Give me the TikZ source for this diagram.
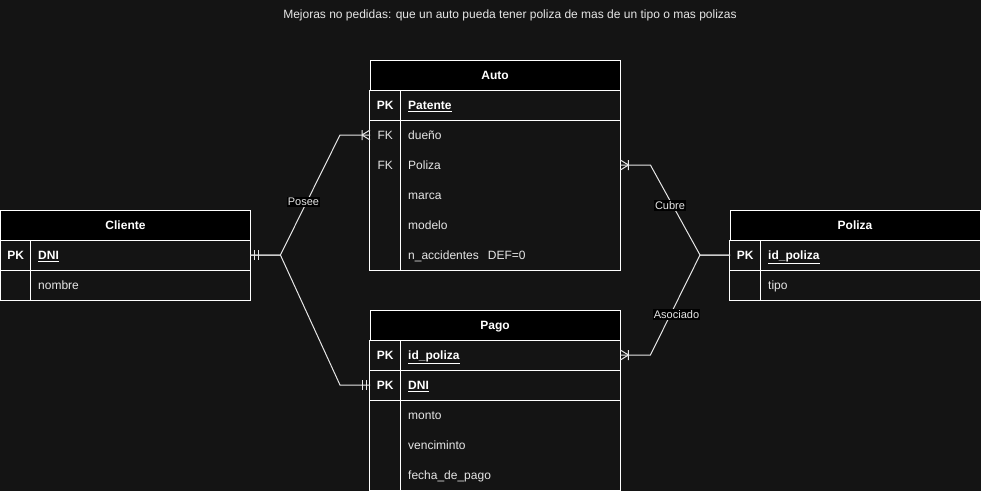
\documentclass[tikz,border=0pt]{standalone}
\usepackage{fontspec}
\setmainfont{Liberation Sans}
\definecolor{fondo}{HTML}{141414}
\definecolor{texto}{HTML}{E6E6E6}
\tikzset{
	tabhead/.style={draw=white, fill=black, text=white, font=\fontsize{12}{14}\selectfont\bfseries, minimum width=250pt, minimum height=30pt, inner sep=0pt, text height=8.6pt, text depth=0pt},
	keycell/.style={minimum width=30pt, minimum height=30pt, inner sep=0pt, text=texto, anchor=west, text height=8.6pt, text depth=0pt},
	pkcell/.style={keycell, text=white, font=\fontsize{12}{14}\selectfont\bfseries},
	fieldcell/.style={minimum height=30pt, text width=204pt, inner xsep=8pt, inner ysep=0pt, align=left, text=texto, anchor=west, text height=8.6pt, text depth=0pt},
	pkfield/.style={fieldcell, text=white, font=\fontsize{12}{14}\selectfont\bfseries},
	tabline/.style={draw=white, line width=1pt},
	rel/.style={draw=texto, line width=1pt},
	rellabel/.style={fill=black, text=texto, inner sep=1pt, font=\fontsize{11}{13}\selectfont},
	pics/unomuchos/.style={code={\draw[rel] (-8,0) -- (0,-5) (-8,0) -- (0,5) (-8,-5) -- (-8,5);}},
	pics/solouno/.style={code={\draw[rel] (-4,-5) -- (-4,5) (-8,-5) -- (-8,5);}},
}
\begin{document}
\begin{tikzpicture}[x=1pt,y=-1pt,font=\fontsize{12}{14}\selectfont]
	\useasboundingbox (0,0) rectangle (981,491);
	\fill[fondo] (0,0) rectangle (981,491);
	\node[text=texto] (titulo) at (510,15) {Mejoras no pedidas: que un auto pueda tener poliza de mas de un tipo o mas polizas};
	% Cliente
	\node[tabhead] (Cliente) at (125.5,225) {Cliente};
	\node[pkcell] (Cliente-kDNI) at (0.5,255) {PK};
	\node[pkfield] (Cliente-DNI) at (30,255) {\underline{DNI}};
	\node[fieldcell] (Cliente-nombre) at (30,285) {nombre};
	\draw[tabline] (Cliente.south west) rectangle (250,300);
	\draw[tabline] (30,240) -- (30,300) (0.5,270) -- (250,270);
	% Auto
	\node[tabhead] (Auto) at (495,75) {Auto};
	\node[pkcell] (Auto-kPatente) at (370,105) {PK};
	\node[pkfield] (Auto-Patente) at (400,105) {\underline{Patente}};
	\node[keycell] (Auto-kdueno) at (370,135) {FK};
	\node[fieldcell] (Auto-dueno) at (400,135) {dueño};
	\node[keycell] (Auto-kPoliza) at (370,165) {FK};
	\node[fieldcell] (Auto-Poliza) at (400,165) {Poliza};
	\foreach \campo/\y in {marca/195, modelo/225}
		\node[fieldcell] (Auto-\campo) at (400,\y) {\campo};
	\node[fieldcell] (Auto-naccidentes) at (400,255) {n\_accidentes\hspace{9pt}DEF=0};
	\draw[tabline] (Auto.south west) rectangle (620,270);
	\draw[tabline] (400,90) -- (400,270) (370,120) -- (620,120);
	% Poliza
	\node[tabhead] (Poliza) at (855,225) {Poliza};
	\node[pkcell] (Poliza-kid) at (730,255) {PK};
	\node[pkfield] (Poliza-id) at (760,255) {\underline{id\_poliza}};
	\node[fieldcell] (Poliza-tipo) at (760,285) {tipo};
	\draw[tabline] (Poliza.south west) rectangle (980,300);
	\draw[tabline] (760,240) -- (760,300) (730,270) -- (980,270);
	% Pago
	\node[tabhead] (Pago) at (495,325) {Pago};
	\node[pkcell] (Pago-kid) at (370,355) {PK};
	\node[pkfield] (Pago-id) at (400,355) {\underline{id\_poliza}};
	\node[pkcell] (Pago-kDNI) at (370,385) {PK};
	\node[pkfield] (Pago-DNI) at (400,385) {\underline{DNI}};
	\foreach \campo/\y in {monto/415, venciminto/445, fecha\_de\_pago/475}
		\node[fieldcell] at (400,\y) {\campo};
	\draw[tabline] (Pago.south west) rectangle (620,490);
	\draw[tabline] (400,340) -- (400,490) (370,370) -- (620,370) (370,400) -- (620,400);
	% relaciones
	\draw[rel] (Cliente-DNI.east) -- ++(30,0) -- ([xshift=-30pt]Auto-kdueno.west) -- (Auto-kdueno.west);
	\draw[rel] (Cliente-DNI.east) -- ++(30,0) -- ([xshift=-30pt]Pago-kDNI.west) -- (Pago-kDNI.west);
	\draw[rel] (Poliza-kid.west) -- ++(-30,0) -- ([xshift=30pt]Auto-Poliza.east) -- (Auto-Poliza.east);
	\draw[rel] (Poliza-kid.west) -- ++(-30,0) -- ([xshift=30pt]Pago-id.east) -- (Pago-id.east);
	\path (Cliente-DNI.east) pic[xscale=-1] {solouno};
	\path (Pago-kDNI.west) pic {solouno};
	\path (Auto-kdueno.west) pic {unomuchos};
	\path (Auto-Poliza.east) pic[xscale=-1] {unomuchos};
	\path (Pago-id.east) pic[xscale=-1] {unomuchos};
	\node[rellabel] (posee) at (303.5,202) {Posee};
	\node[rellabel] (cubre) at (670,205.5) {Cubre};
	\node[rellabel] (asociado) at (676.5,314.5) {Asociado};
\end{tikzpicture}
\end{document}
